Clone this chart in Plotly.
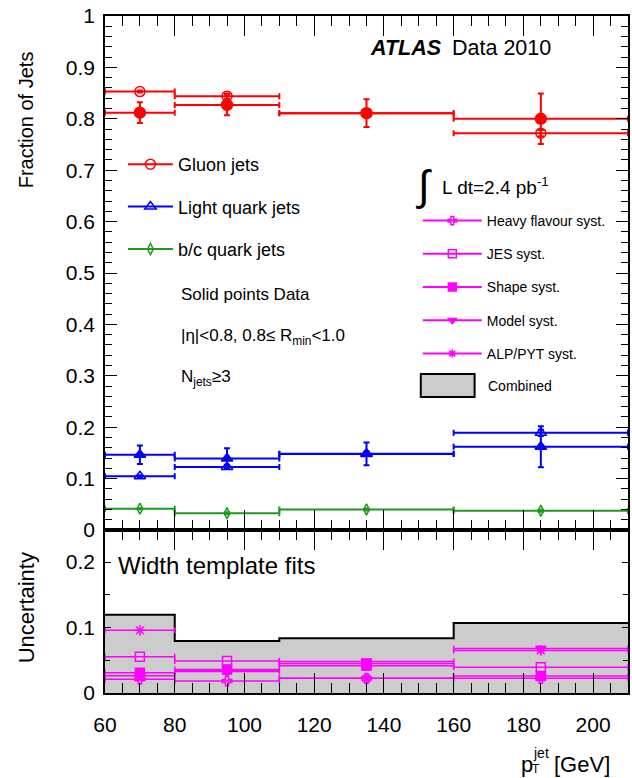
import plotly.graph_objects as go

# ---------------- data ----------------
bin_edges = [60, 80, 110, 160, 210]
bin_centers = [70, 95, 135, 185]
bin_halfwidths = [10, 15, 25, 25]

gluon_mc = [0.853, 0.844, 0.811, 0.772]
gluon_mc_err = [0.002, 0.005, 0.003, 0.006]
gluon_data = [0.812, 0.827, 0.811, 0.800]
gluon_data_err = [0.020, 0.020, 0.027, 0.049]

light_mc = [0.1045, 0.1225, 0.1485, 0.189]
light_mc_err = [0.002, 0.004, 0.004, 0.006]
light_data = [0.1465, 0.139, 0.148, 0.162]
light_data_err = [0.018, 0.020, 0.022, 0.040]

bc_mc = [0.0415, 0.0325, 0.040, 0.0375]
bc_mc_err = [0.001, 0.002, 0.002, 0.002]

hf_syst = [0.021, 0.0183, 0.0224, 0.0224]
jes_syst = [0.0555, 0.049, 0.045, 0.0392]
shape_syst = [0.031, 0.036, 0.0415, 0.026]
model_syst = [0.0265, 0.033, 0.048, 0.068]
alp_syst = [0.0957, 0.034, 0.0224, 0.065]
combined_syst = [0.1196, 0.0794, 0.0835, 0.107]

RED = "#ff0000"
BLUE = "#0000ff"
GREEN = "#1e9a1e"
MAG = "#ff00ff"
FONT = "Liberation Sans, Arial, Helvetica, sans-serif"

# pixel -> paper helpers (plot area: x 105..630, y 16..693)
L, R, T, B = 105, 630, 16, 693
def px(x):
    return (x - L) / (R - L)
def py(y):
    return (B - y) / (B - T)

split = py(530)

fig = go.Figure()

def binned(x, y, yerr, color, symbol, size, xa, ya, lw=2):
    return go.Scatter(
        x=x, y=y, mode="markers", xaxis=xa, yaxis=ya, showlegend=False,
        marker=dict(symbol=symbol, size=size, color=color,
                    line=dict(color=color, width=1.5)),
        error_x=dict(type="data", array=bin_halfwidths, color=color,
                     thickness=lw, width=3),
        error_y=(dict(type="data", array=yerr, color=color, thickness=2, width=3)
                 if yerr is not None else dict(visible=False)),
    )

# ---- top panel ----
fig.add_trace(binned(bin_centers, gluon_mc, gluon_mc_err, RED, "circle-open", 10, "x", "y"))
fig.add_trace(binned(bin_centers, gluon_data, gluon_data_err, RED, "circle", 11, "x", "y"))
fig.add_trace(binned(bin_centers, light_mc, light_mc_err, BLUE, "triangle-up-open", 10, "x", "y"))
fig.add_trace(binned(bin_centers, light_data, light_data_err, BLUE, "triangle-up", 10, "x", "y"))
fig.add_trace(binned(bin_centers, bc_mc, bc_mc_err, GREEN, "diamond-tall-open", 8, "x", "y"))

# ---- bottom panel ----
fig.add_trace(go.Scatter(
    x=bin_edges, y=combined_syst + [combined_syst[-1]], mode="lines",
    line=dict(shape="hv", color="black", width=2), fill="tozeroy",
    fillcolor="#cccccc", xaxis="x2", yaxis="y2", showlegend=False))
fig.add_trace(binned(bin_centers, hf_syst, None, MAG, "cross-open", 8, "x2", "y2", lw=1.5))
fig.add_trace(binned(bin_centers, jes_syst, None, MAG, "square-open", 9, "x2", "y2", lw=1.5))
fig.add_trace(binned(bin_centers, shape_syst, None, MAG, "square", 9, "x2", "y2", lw=1.5))
fig.add_trace(binned(bin_centers, model_syst, None, MAG, "triangle-down", 9, "x2", "y2", lw=1.5))
fig.add_trace(binned(bin_centers, alp_syst, None, MAG, "asterisk-open", 9, "x2", "y2", lw=1.5))

# ---- legend proxies ----
def proxy(name, color, symbol, size, legend, group):
    return go.Scatter(x=[None], y=[None], mode="lines+markers", name=name,
                      legend=legend, legendgroup=group,
                      line=dict(color=color, width=2),
                      marker=dict(symbol=symbol, size=size, color=color,
                                  line=dict(color=color, width=1.5)))

fig.add_trace(proxy("Gluon jets", RED, "circle-open", 10, "legend", "g1"))
fig.add_trace(proxy("Light quark jets", BLUE, "triangle-up-open", 10, "legend", "g2"))
fig.add_trace(proxy("b/c quark jets", GREEN, "diamond-tall-open", 8, "legend", "g3"))

fig.add_trace(proxy("Heavy flavour syst.", MAG, "cross-open", 7, "legend2", "s1"))
fig.add_trace(proxy("JES syst.", MAG, "square-open", 8, "legend2", "s2"))
fig.add_trace(proxy("Shape syst.", MAG, "square", 8, "legend2", "s3"))
fig.add_trace(proxy("Model syst.", MAG, "triangle-down", 7, "legend2", "s4"))
fig.add_trace(proxy("ALP/PYT syst.", MAG, "asterisk-open", 7, "legend2", "s5"))

axis_common = dict(showline=True, linecolor="black", linewidth=1.5, mirror="allticks",
                   ticks="inside", tickcolor="black", tickwidth=1.2, showgrid=False,
                   zeroline=False)

fig.update_layout(
    width=632, height=778,
    margin=dict(l=L, r=632 - R, t=T, b=778 - B),
    paper_bgcolor="white", plot_bgcolor="white",
    font=dict(family=FONT, color="black", size=21),
    xaxis=dict(domain=[0, 1], anchor="y", range=[60, 210], tick0=60, dtick=20,
               ticklen=20, showticklabels=False,
               minor=dict(dtick=5, ticklen=10, ticks="inside", tickcolor="black", tickwidth=1.2),
               **axis_common),
    yaxis=dict(domain=[split, 1], anchor="x", range=[0, 1], dtick=0.1, ticklen=12,
               ticklabelstandoff=4,
               minor=dict(dtick=0.02, ticklen=7, ticks="inside", tickcolor="black", tickwidth=1.2),
               **axis_common),
    xaxis2=dict(domain=[0, 1], anchor="y2", range=[60, 210], tick0=60, dtick=20,
                ticklen=20, ticklabelstandoff=12,
                minor=dict(dtick=5, ticklen=10, ticks="inside", tickcolor="black", tickwidth=1.2),
                **axis_common),
    yaxis2=dict(domain=[0, split], anchor="x2", range=[0, 0.249], dtick=0.1, ticklen=6,
                ticklabelstandoff=4,
                minor=dict(dtick=0.05, ticklen=5, ticks="inside", tickcolor="black", tickwidth=1.2),
                **axis_common),
    legend=dict(x=px(123), y=py(146), xanchor="left", yanchor="top",
                bgcolor="rgba(0,0,0,0)", font=dict(size=18, family=FONT),
                tracegroupgap=16, itemwidth=45, traceorder="grouped"),
    legend2=dict(x=px(419), y=py(205), xanchor="left", yanchor="top",
                 bgcolor="rgba(0,0,0,0)", font=dict(size=14, family=FONT),
                 tracegroupgap=12, itemwidth=59, traceorder="grouped"),
)

ann = []
def text(x, y, s, size, xanchor="left", yanchor="middle", angle=0):
    ann.append(dict(x=px(x), y=py(y), xref="paper", yref="paper", text=s,
                    showarrow=False, xanchor=xanchor, yanchor=yanchor,
                    textangle=angle, font=dict(size=size, family=FONT, color="black")))

text(369, 48, "<b><i>ATLAS</i></b>", 21.5)
text(451, 48, "Data 2010", 21.5)
text(179, 294, "Solid points Data", 17)
text(179, 337, "|η|&lt;0.8, 0.8≤ R<sub>min</sub>&lt;1.0", 17)
text(179, 378, "N<sub>jets</sub>≥3", 17)
text(425, 185, "∫", 42, xanchor="center")
text(441, 186, "L dt=2.4 pb<sup>-1</sup>", 19)
text(487, 386, "Combined", 14)
text(116, 565, "Width template fits", 24)
text(26, 120, "Fraction of Jets", 20, xanchor="center", angle=-90)
text(26, 608, "Uncertainty", 22, xanchor="center", angle=-90)
# x-axis title p_T^jet [GeV]
text(537, 765, "p", 22, xanchor="right")
text(533, 753, "jet", 14, xanchor="left")
text(532, 778, "T", 12, xanchor="left", yanchor="bottom")
text(554, 765, "[GeV]", 22)

fig.update_layout(annotations=ann)
fig.add_shape(type="rect", xref="paper", yref="paper",
              x0=px(422), x1=px(476), y0=py(397), y1=py(374),
              fillcolor="#cccccc", line=dict(color="black", width=2))

fig.write_html("out.html", config={"displayModeBar": False},
               post_script="document.body.style.margin='0';document.body.style.overflow='hidden';")
